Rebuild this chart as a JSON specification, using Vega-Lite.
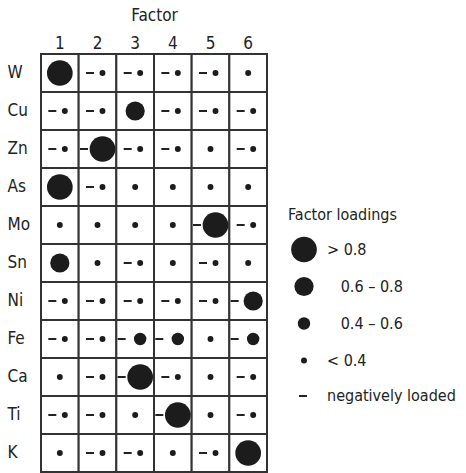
{
  "$schema": "https://vega.github.io/schema/vega-lite/v6.json",
  "width": 226,
  "height": 418,
  "autosize": {"type": "none"},
  "padding": {"left": 41, "top": 54, "right": 199, "bottom": 1},
  "background": "white",
  "config": {
    "view": {"stroke": null},
    "font": "DejaVu Sans Condensed",
    "axis": {"labelColor": "#222", "titleColor": "#222", "labelFont": "DejaVu Sans Condensed", "titleFont": "DejaVu Sans Condensed"},
    "legend": {"labelColor": "#222", "titleColor": "#222", "labelFont": "DejaVu Sans Condensed", "titleFont": "DejaVu Sans Condensed"}
  },
  "data": {
    "values": [
      {"el": "W", "f": "1", "cls": "> 0.8", "neg": false},
      {"el": "W", "f": "2", "cls": "< 0.4", "neg": true},
      {"el": "W", "f": "3", "cls": "< 0.4", "neg": true},
      {"el": "W", "f": "4", "cls": "< 0.4", "neg": true},
      {"el": "W", "f": "5", "cls": "< 0.4", "neg": true},
      {"el": "W", "f": "6", "cls": "< 0.4", "neg": false},
      {"el": "Cu", "f": "1", "cls": "< 0.4", "neg": true},
      {"el": "Cu", "f": "2", "cls": "< 0.4", "neg": true},
      {"el": "Cu", "f": "3", "cls": "0.6 – 0.8", "neg": false},
      {"el": "Cu", "f": "4", "cls": "< 0.4", "neg": true},
      {"el": "Cu", "f": "5", "cls": "< 0.4", "neg": true},
      {"el": "Cu", "f": "6", "cls": "< 0.4", "neg": true},
      {"el": "Zn", "f": "1", "cls": "< 0.4", "neg": true},
      {"el": "Zn", "f": "2", "cls": "> 0.8", "neg": true},
      {"el": "Zn", "f": "3", "cls": "< 0.4", "neg": true},
      {"el": "Zn", "f": "4", "cls": "< 0.4", "neg": true},
      {"el": "Zn", "f": "5", "cls": "< 0.4", "neg": false},
      {"el": "Zn", "f": "6", "cls": "< 0.4", "neg": true},
      {"el": "As", "f": "1", "cls": "> 0.8", "neg": false},
      {"el": "As", "f": "2", "cls": "< 0.4", "neg": true},
      {"el": "As", "f": "3", "cls": "< 0.4", "neg": false},
      {"el": "As", "f": "4", "cls": "< 0.4", "neg": false},
      {"el": "As", "f": "5", "cls": "< 0.4", "neg": false},
      {"el": "As", "f": "6", "cls": "< 0.4", "neg": false},
      {"el": "Mo", "f": "1", "cls": "< 0.4", "neg": false},
      {"el": "Mo", "f": "2", "cls": "< 0.4", "neg": false},
      {"el": "Mo", "f": "3", "cls": "< 0.4", "neg": false},
      {"el": "Mo", "f": "4", "cls": "< 0.4", "neg": false},
      {"el": "Mo", "f": "5", "cls": "> 0.8", "neg": true},
      {"el": "Mo", "f": "6", "cls": "< 0.4", "neg": true},
      {"el": "Sn", "f": "1", "cls": "0.6 – 0.8", "neg": false},
      {"el": "Sn", "f": "2", "cls": "< 0.4", "neg": false},
      {"el": "Sn", "f": "3", "cls": "< 0.4", "neg": true},
      {"el": "Sn", "f": "4", "cls": "< 0.4", "neg": false},
      {"el": "Sn", "f": "5", "cls": "< 0.4", "neg": true},
      {"el": "Sn", "f": "6", "cls": "< 0.4", "neg": false},
      {"el": "Ni", "f": "1", "cls": "< 0.4", "neg": true},
      {"el": "Ni", "f": "2", "cls": "< 0.4", "neg": true},
      {"el": "Ni", "f": "3", "cls": "< 0.4", "neg": true},
      {"el": "Ni", "f": "4", "cls": "< 0.4", "neg": true},
      {"el": "Ni", "f": "5", "cls": "< 0.4", "neg": true},
      {"el": "Ni", "f": "6", "cls": "0.6 – 0.8", "neg": true},
      {"el": "Fe", "f": "1", "cls": "< 0.4", "neg": true},
      {"el": "Fe", "f": "2", "cls": "< 0.4", "neg": true},
      {"el": "Fe", "f": "3", "cls": "0.4 – 0.6", "neg": true},
      {"el": "Fe", "f": "4", "cls": "0.4 – 0.6", "neg": true},
      {"el": "Fe", "f": "5", "cls": "< 0.4", "neg": false},
      {"el": "Fe", "f": "6", "cls": "0.4 – 0.6", "neg": true},
      {"el": "Ca", "f": "1", "cls": "< 0.4", "neg": false},
      {"el": "Ca", "f": "2", "cls": "< 0.4", "neg": true},
      {"el": "Ca", "f": "3", "cls": "> 0.8", "neg": true},
      {"el": "Ca", "f": "4", "cls": "< 0.4", "neg": true},
      {"el": "Ca", "f": "5", "cls": "< 0.4", "neg": false},
      {"el": "Ca", "f": "6", "cls": "< 0.4", "neg": true},
      {"el": "Ti", "f": "1", "cls": "< 0.4", "neg": true},
      {"el": "Ti", "f": "2", "cls": "< 0.4", "neg": true},
      {"el": "Ti", "f": "3", "cls": "< 0.4", "neg": false},
      {"el": "Ti", "f": "4", "cls": "> 0.8", "neg": true},
      {"el": "Ti", "f": "5", "cls": "< 0.4", "neg": false},
      {"el": "Ti", "f": "6", "cls": "< 0.4", "neg": true},
      {"el": "K", "f": "1", "cls": "< 0.4", "neg": false},
      {"el": "K", "f": "2", "cls": "< 0.4", "neg": true},
      {"el": "K", "f": "3", "cls": "< 0.4", "neg": true},
      {"el": "K", "f": "4", "cls": "< 0.4", "neg": false},
      {"el": "K", "f": "5", "cls": "< 0.4", "neg": true},
      {"el": "K", "f": "6", "cls": "> 0.8", "neg": false}
    ]
  },
  "encoding": {
    "x": {
      "field": "f", "type": "nominal",
      "scale": {"paddingInner": 0, "paddingOuter": 0},
      "axis": {"orient": "top", "title": "Factor", "labelAngle": 0, "labelFontSize": 17, "titleFontSize": 17, "titleFontWeight": "normal", "labelPadding": 2, "titlePadding": 10, "tickSize": 0, "ticks": false, "domain": false}
    },
    "y": {
      "field": "el", "type": "nominal",
      "sort": ["W", "Cu", "Zn", "As", "Mo", "Sn", "Ni", "Fe", "Ca", "Ti", "K"],
      "scale": {"paddingInner": 0, "paddingOuter": 0},
      "axis": {"title": null, "labelFontSize": 17, "labelAlign": "left", "labelPadding": 34, "tickSize": 0, "ticks": false, "domain": false}
    }
  },
  "layer": [
    {
      "mark": {"type": "rect", "fill": "white", "stroke": "#333", "strokeWidth": 2}
    },
    {
      "transform": [{"filter": "!datum.neg"}],
      "mark": {"type": "circle", "color": "#1c1c1c", "opacity": 1},
      "encoding": {
        "size": {
          "field": "cls", "type": "ordinal",
          "scale": {"type": "ordinal", "domain": ["> 0.8", "0.6 – 0.8", "0.4 – 0.6", "< 0.4"], "range": [660, 370, 154, 35]},
          "legend": {
            "title": "Factor loadings", "orient": "none", "legendX": 247, "legendY": 153,
            "titleFontSize": 16, "titleFontWeight": "normal", "titlePadding": 11,
            "labelFontSize": 16, "labelOffset": 10, "rowPadding": 6, "clipHeight": 31, "symbolOffset": 3,
            "symbolFillColor": "#1c1c1c", "symbolStrokeWidth": 0, "symbolOpacity": 1,
            "labelExpr": "(datum.label == '> 0.8' || datum.label == '< 0.4') ? datum.label : '\u200b\u00a0\u00a0\u00a0' + datum.label"
          }
        }
      }
    },
    {
      "transform": [{"filter": "datum.neg"}],
      "mark": {"type": "circle", "color": "#1c1c1c", "opacity": 1, "xOffset": 5},
      "encoding": {
        "size": {"field": "cls", "type": "ordinal", "legend": null, "scale": {"type": "ordinal", "domain": ["> 0.8", "0.6 – 0.8", "0.4 – 0.6", "< 0.4"], "range": [660, 370, 154, 35]}}
      }
    },
    {
      "transform": [{"filter": "datum.neg && datum.cls == '< 0.4'"}],
      "mark": {"type": "point", "filled": false, "strokeWidth": 2, "size": 64, "color": "#222", "opacity": 1, "xOffset": -7.5},
      "encoding": {
        "shape": {
          "datum": "negatively loaded", "type": "nominal",
          "scale": {"domain": ["negatively loaded"], "range": ["stroke"]},
          "legend": {
            "title": null, "orient": "none", "legendX": 254, "legendY": 334,
            "labelFontSize": 16, "labelOffset": 16, "symbolSize": 64,
            "symbolStrokeColor": "#222", "symbolStrokeWidth": 2, "symbolFillColor": "transparent"
          }
        }
      }
    },
    {
      "transform": [{"filter": "datum.neg && datum.cls != '< 0.4'"}],
      "mark": {"type": "point", "filled": false, "strokeWidth": 2, "size": 64, "color": "#222", "opacity": 1, "xOffset": -13.5},
      "encoding": {
        "shape": {"datum": "negatively loaded", "type": "nominal", "legend": null}
      }
    }
  ]
}
